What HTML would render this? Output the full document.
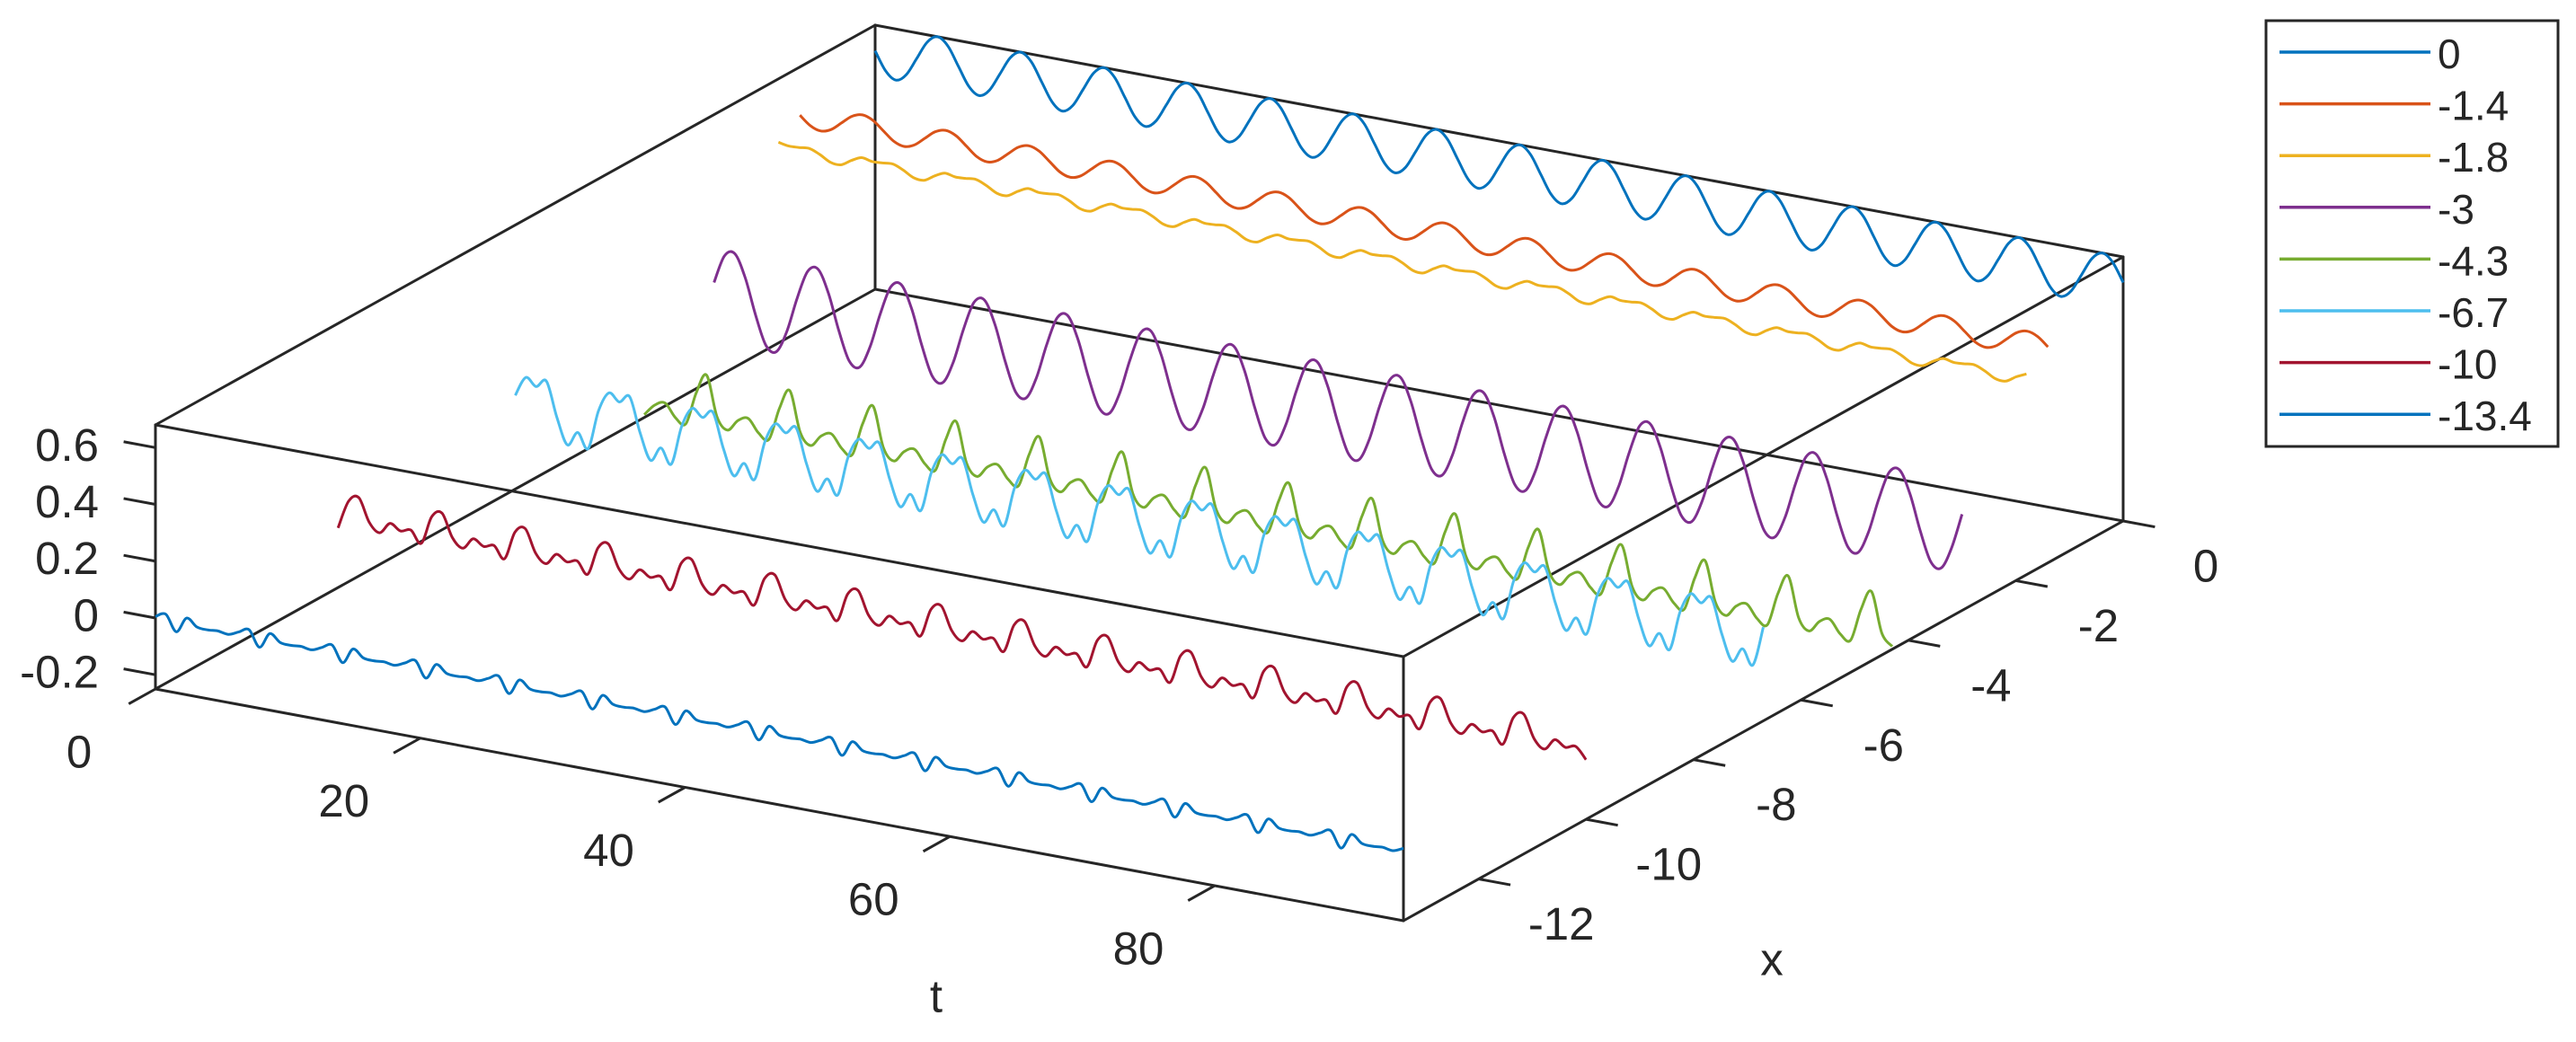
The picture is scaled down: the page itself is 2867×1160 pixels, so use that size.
<!DOCTYPE html>
<html>
<head>
<meta charset="utf-8">
<style>
  html,body{margin:0;padding:0;background:#fff;}
  svg{display:block;}
  text{font-family:"Liberation Sans",Arial,sans-serif;fill:#262626;}
</style>
</head>
<body>
<svg id="chart" width="2867" height="1160" viewBox="0 0 2867 1160" xmlns="http://www.w3.org/2000/svg">
  <rect x="0" y="0" width="2867" height="1160" fill="#ffffff"/>
  <g id="box"></g>
  <g id="ticks"></g>
  <g id="series"></g>
  <text x="1042" y="1109" font-size="51" text-anchor="middle" dominant-baseline="central">t</text>
  <text x="1972" y="1068" font-size="51" text-anchor="middle" dominant-baseline="central">x</text>
  <g id="legend">
    <rect x="2522" y="23" width="325" height="474" fill="#ffffff" stroke="#262626" stroke-width="3"/>
  </g>
</svg>
<script>
// ---- chart data ----
const tTicks = [0, 20, 40, 60, 80];
const xTicks = [0, -2, -4, -6, -8, -10, -12];
const zTicks = [-0.2, 0, 0.2, 0.4, 0.6];
const seriesLabels = ["0", "-1.4", "-1.8", "-3", "-4.3", "-6.7", "-10", "-13.4"];
const seriesX = [0, -1.4, -1.8, -3, -4.3, -6.7, -10, -13.4];
const seriesColors = ["#0072BD", "#D95319", "#EDB120", "#7E2F8E", "#77AC30", "#4DBEEE", "#A2142F", "#0072BD"];
const tStep = Math.PI / 4;
const zSeries0 = [
.59,.526,.50,.526,.59,.654,.68,.654, .59,.526,.50,.526,.59,.654,.68,.654, .59,.526,.50,.526,.59,.654,.68,.654,
.59,.526,.50,.526,.59,.654,.68,.654, .59,.526,.50,.526,.59,.654,.68,.654, .59,.526,.50,.526,.59,.654,.68,.654,
.59,.526,.50,.526,.59,.654,.68,.654, .59,.526,.50,.526,.59,.654,.68,.654, .59,.526,.50,.526,.59,.654,.68,.654,
.59,.526,.50,.526,.59,.654,.68,.654, .59,.526,.50,.526,.59,.654,.68,.654, .59,.526,.50,.526,.59,.654,.68,.654,
.59,.526,.50,.526,.59,.654,.68,.654, .59,.526,.50,.526,.59,.654,.68,.654, .59,.526,.50,.526,.59,.654,.68,.654, .59];
const zSeriesM14 = [
.51,.48,.468,.48,.51,.54,.552,.54, .51,.48,.468,.48,.51,.54,.552,.54, .51,.48,.468,.48,.51,.54,.552,.54,
.51,.48,.468,.48,.51,.54,.552,.54, .51,.48,.468,.48,.51,.54,.552,.54, .51,.48,.468,.48,.51,.54,.552,.54,
.51,.48,.468,.48,.51,.54,.552,.54, .51,.48,.468,.48,.51,.54,.552,.54, .51,.48,.468,.48,.51,.54,.552,.54,
.51,.48,.468,.48,.51,.54,.552,.54, .51,.48,.468,.48,.51,.54,.552,.54, .51,.48,.468,.48,.51,.54,.552,.54,
.51,.48,.468,.48,.51,.54,.552,.54, .51,.48,.468,.48,.51,.54,.552,.54, .51,.48,.468,.48,.51,.54,.552,.54, .51];
const zSeriesM18 = [
.457,.45,.452,.455,.44,.42,.418,.44, .457,.45,.452,.455,.44,.42,.418,.44, .457,.45,.452,.455,.44,.42,.418,.44,
.457,.45,.452,.455,.44,.42,.418,.44, .457,.45,.452,.455,.44,.42,.418,.44, .457,.45,.452,.455,.44,.42,.418,.44,
.457,.45,.452,.455,.44,.42,.418,.44, .457,.45,.452,.455,.44,.42,.418,.44, .457,.45,.452,.455,.44,.42,.418,.44,
.457,.45,.452,.455,.44,.42,.418,.44, .457,.45,.452,.455,.44,.42,.418,.44, .457,.45,.452,.455,.44,.42,.418,.44,
.457,.45,.452,.455,.44,.42,.418,.44, .457,.45,.452,.455,.44,.42,.418,.44, .457,.45,.452,.455,.44,.42,.418,.44, .457];
const zSeriesM3 = [
.089,.189,.204,.126,.001,-.099,-.114,-.036, .089,.189,.204,.126,.001,-.099,-.114,-.036, .089,.189,.204,.126,.001,-.099,-.114,-.036,
.089,.189,.204,.126,.001,-.099,-.114,-.036, .089,.189,.204,.126,.001,-.099,-.114,-.036, .089,.189,.204,.126,.001,-.099,-.114,-.036,
.089,.189,.204,.126,.001,-.099,-.114,-.036, .089,.189,.204,.126,.001,-.099,-.114,-.036, .089,.189,.204,.126,.001,-.099,-.114,-.036,
.089,.189,.204,.126,.001,-.099,-.114,-.036, .089,.189,.204,.126,.001,-.099,-.114,-.036, .089,.189,.204,.126,.001,-.099,-.114,-.036,
.089,.189,.204,.126,.001,-.099,-.114,-.036, .089,.189,.204,.126,.001,-.099,-.114,-.036, .089,.189,.204,.126,.001,-.099,-.114,-.036, .089];
const zSeriesM43 = [
-.24,-.2,-.185,-.23,-.245,-.13,-.06,-.2, -.24,-.2,-.185,-.23,-.245,-.13,-.06,-.2, -.24,-.2,-.185,-.23,-.245,-.13,-.06,-.2,
-.24,-.2,-.185,-.23,-.245,-.13,-.06,-.2, -.24,-.2,-.185,-.23,-.245,-.13,-.06,-.2, -.24,-.2,-.185,-.23,-.245,-.13,-.06,-.2,
-.24,-.2,-.185,-.23,-.245,-.13,-.06,-.2, -.24,-.2,-.185,-.23,-.245,-.13,-.06,-.2, -.24,-.2,-.185,-.23,-.245,-.13,-.06,-.2,
-.24,-.2,-.185,-.23,-.245,-.13,-.06,-.2, -.24,-.2,-.185,-.23,-.245,-.13,-.06,-.2, -.24,-.2,-.185,-.23,-.245,-.13,-.06,-.2,
-.24,-.2,-.185,-.23,-.245,-.13,-.06,-.2, -.24,-.2,-.185,-.23,-.245,-.13,-.06,-.2, -.24,-.2,-.185,-.23,-.245,-.13,-.06,-.2, -.24];
const zSeriesM67 = [
.08,.15,.125,.15,.03,-.06,-.01,-.06, .08,.15,.125,.15,.03,-.06,-.01,-.06, .08,.15,.125,.15,.03,-.06,-.01,-.06,
.08,.15,.125,.15,.03,-.06,-.01,-.06, .08,.15,.125,.15,.03,-.06,-.01,-.06, .08,.15,.125,.15,.03,-.06,-.01,-.06,
.08,.15,.125,.15,.03,-.06,-.01,-.06, .08,.15,.125,.15,.03,-.06,-.01,-.06, .08,.15,.125,.15,.03,-.06,-.01,-.06,
.08,.15,.125,.15,.03,-.06,-.01,-.06, .08,.15,.125,.15,.03,-.06,-.01,-.06, .08,.15,.125,.15,.03,-.06,-.01,-.06,
.08,.15,.125,.15,.03,-.06,-.01,-.06, .08,.15,.125,.15,.03,-.06,-.01,-.06, .08,.15,.125,.15,.03,-.06,-.01,-.06, .08];
const zSeriesM10 = [
-.04,.06,.08,0,-.03,.01,-.01,0, -.04,.06,.08,0,-.03,.01,-.01,0, -.04,.06,.08,0,-.03,.01,-.01,0,
-.04,.06,.08,0,-.03,.01,-.01,0, -.04,.06,.08,0,-.03,.01,-.01,0, -.04,.06,.08,0,-.03,.01,-.01,0,
-.04,.06,.08,0,-.03,.01,-.01,0, -.04,.06,.08,0,-.03,.01,-.01,0, -.04,.06,.08,0,-.03,.01,-.01,0,
-.04,.06,.08,0,-.03,.01,-.01,0, -.04,.06,.08,0,-.03,.01,-.01,0, -.04,.06,.08,0,-.03,.01,-.01,0,
-.04,.06,.08,0,-.03,.01,-.01,0, -.04,.06,.08,0,-.03,.01,-.01,0, -.04,.06,.08,0,-.03,.01,-.01,0, -.04];
const zSeriesM134 = [
.005,.02,-.035,.02,-.005,-.008,-.005,-.01, .005,.02,-.035,.02,-.005,-.008,-.005,-.01, .005,.02,-.035,.02,-.005,-.008,-.005,-.01,
.005,.02,-.035,.02,-.005,-.008,-.005,-.01, .005,.02,-.035,.02,-.005,-.008,-.005,-.01, .005,.02,-.035,.02,-.005,-.008,-.005,-.01,
.005,.02,-.035,.02,-.005,-.008,-.005,-.01, .005,.02,-.035,.02,-.005,-.008,-.005,-.01, .005,.02,-.035,.02,-.005,-.008,-.005,-.01,
.005,.02,-.035,.02,-.005,-.008,-.005,-.01, .005,.02,-.035,.02,-.005,-.008,-.005,-.01, .005,.02,-.035,.02,-.005,-.008,-.005,-.01,
.005,.02,-.035,.02,-.005,-.008,-.005,-.01, .005,.02,-.035,.02,-.005,-.008,-.005,-.01, .005,.02,-.035,.02,-.005,-.008,-.005,-.01, .005];
const allSeries = [zSeries0, zSeriesM14, zSeriesM18, zSeriesM3, zSeriesM43, zSeriesM67, zSeriesM10, zSeriesM134];

// ---- axis ranges & projection ----
const T_MIN = 0, T_MAX = 30 * Math.PI;
const X_MIN = -13.4, X_MAX = 0;
const Z_MIN = -0.25, Z_MAX = 0.68;
const O = [173, 767], A = [1389, 258], B = [801, -445], C = [0, -294];
function proj(t, x, z) {
  const a = (t - T_MIN) / (T_MAX - T_MIN);
  const b = (x - X_MIN) / (X_MAX - X_MIN);
  const c = (z - Z_MIN) / (Z_MAX - Z_MIN);
  return [O[0] + a * A[0] + b * B[0] + c * C[0], O[1] + a * A[1] + b * B[1] + c * C[1]];
}
const NS = "http://www.w3.org/2000/svg";
function mk(tag, attrs, parent) {
  const el = document.createElementNS(NS, tag);
  for (const k in attrs) el.setAttribute(k, attrs[k]);
  parent.appendChild(el);
  return el;
}
const AX = "#262626";

// ---- box edges ----
const boxG = document.getElementById("box");
const corners = {};
[[T_MIN,"l"],[T_MAX,"r"]].forEach(([t,tn]) => {
  [[X_MIN,"f"],[X_MAX,"b"]].forEach(([x,xn]) => {
    [[Z_MIN,"b"],[Z_MAX,"t"]].forEach(([z,zn]) => { corners[xn+tn+zn] = proj(t,x,z); });
  });
});
const edges = [
  ["flb","frb"],["flt","frt"],["blb","brb"],["blt","brt"],
  ["flb","blb"],["flt","blt"],["frb","brb"],["frt","brt"],
  ["flb","flt"],["frb","frt"],["blb","blt"],["brb","brt"]
];
edges.forEach(([p, q]) => {
  const e = mk("line", {x1: corners[p][0], y1: corners[p][1], x2: corners[q][0], y2: corners[q][1], stroke: AX, "stroke-width": 3, "stroke-linecap": "round"}, boxG);
  
  
});

// ---- ticks ----
const tickG = document.getElementById("ticks");
function unit(v) { const l = Math.hypot(v[0], v[1]); return [v[0] / l, v[1] / l]; }
const uA = unit(A), uB = unit(B);
zTicks.forEach(z => {
  const p = proj(T_MIN, X_MIN, z);
  const tk = mk("line", {x1: p[0], y1: p[1], x2: p[0] - uA[0] * 36, y2: p[1] - uA[1] * 36, stroke: AX, "stroke-width": 3}, tickG);
  
  
  const lb = mk("text", {x: 110, y: p[1] - 3, "font-size": 51, "text-anchor": "end", "dominant-baseline": "central"}, tickG);
  lb.textContent = String(z);
  
  
});
tTicks.forEach(t => {
  const p = proj(t, X_MIN, Z_MIN);
  const tk = mk("line", {x1: p[0], y1: p[1], x2: p[0] - uB[0] * 34, y2: p[1] - uB[1] * 34, stroke: AX, "stroke-width": 3}, tickG);
  
  
  const lb = mk("text", {x: p[0] - 85, y: p[1] + 70, "font-size": 51, "text-anchor": "middle", "dominant-baseline": "central"}, tickG);
  lb.textContent = String(t);
  
  
});
xTicks.forEach(x => {
  const p = proj(T_MAX, x, Z_MIN);
  const tk = mk("line", {x1: p[0], y1: p[1], x2: p[0] + uA[0] * 36, y2: p[1] + uA[1] * 36, stroke: AX, "stroke-width": 3}, tickG);
  
  
  const lb = mk("text", {x: p[0] + 92, y: p[1] + 50, "font-size": 51, "text-anchor": "middle", "dominant-baseline": "central"}, tickG);
  lb.textContent = String(x);
  
  
});

// ---- series ----
const serG = document.getElementById("series");
allSeries.forEach((vals, si) => {
  const pts = vals.map((z, k) => proj(Math.min(k * tStep, T_MAX), seriesX[si], z));
  let d = "M" + pts[0][0].toFixed(1) + "," + pts[0][1].toFixed(1);
  for (let i = 0; i < pts.length - 1; i++) {
    const p0 = pts[Math.max(0, i - 1)], p1 = pts[i], p2 = pts[i + 1], p3 = pts[Math.min(pts.length - 1, i + 2)];
    const c1 = [p1[0] + (p2[0] - p0[0]) / 6, p1[1] + (p2[1] - p0[1]) / 6];
    const c2 = [p2[0] - (p3[0] - p1[0]) / 6, p2[1] - (p3[1] - p1[1]) / 6];
    d += " C" + c1[0].toFixed(1) + "," + c1[1].toFixed(1) + " " + c2[0].toFixed(1) + "," + c2[1].toFixed(1) + " " + p2[0].toFixed(1) + "," + p2[1].toFixed(1);
  }
  const path = mk("path", {d: d, fill: "none", stroke: seriesColors[si], "stroke-width": 3, "stroke-linejoin": "round"}, serG);
  
  
});

// ---- legend ----
const legG = document.getElementById("legend");
seriesLabels.forEach((lab, i) => {
  const y = 58 + i * 57.6;
  const ln = mk("line", {x1: 2537, y1: y, x2: 2705, y2: y, stroke: seriesColors[i], "stroke-width": 3.5}, legG);
  
  
  const tx = mk("text", {x: 2713, y: y + 2, "font-size": 46, "dominant-baseline": "central"}, legG);
  tx.textContent = lab;
  
  
});
</script>
</body>
</html>
